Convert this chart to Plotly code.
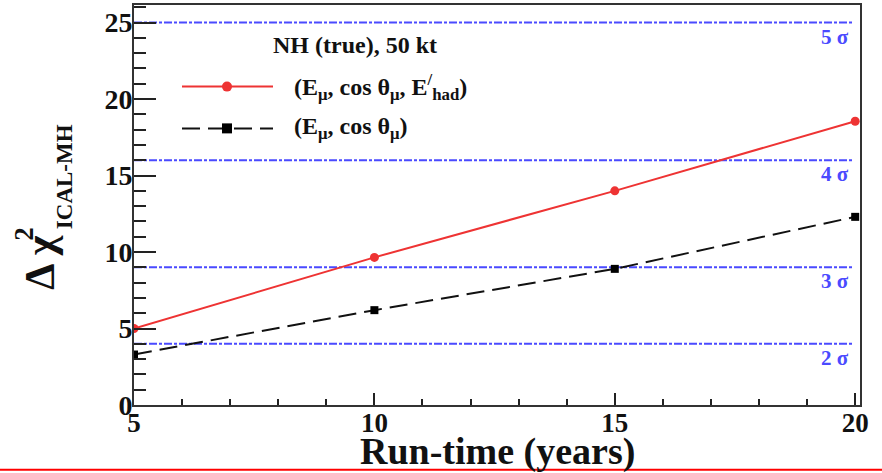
import plotly.graph_objects as go

# ---- data ----
run_time = [5, 10, 15, 20]
chi2_with_had = [5.0, 9.65, 14.0, 18.55]
chi2_without_had = [3.3, 6.2, 8.9, 12.3]
sigma_levels = [4, 9, 16, 25]
sigma_labels = ["2 σ", "3 σ", "4 σ", "5 σ"]
x_ticks = [5, 10, 15, 20]
y_ticks = [0, 5, 10, 15, 20, 25]

SERIF = "Liberation Serif, Times New Roman, Tinos, DejaVu Serif, serif"
RED = "#ee3333"
BLUE = "#4a4aff"
INK = "#111111"

# plot area in pixels (for paper-coordinate helpers)
L, R, T, B = 134, 860, 3, 405
def px(x):
    return (x - L) / (R - L)
def py(y):
    return (B - y) / (B - T)

fig = go.Figure()

fig.add_trace(go.Scatter(
    x=run_time, y=chi2_with_had, mode="lines+markers",
    line=dict(color=RED, width=2),
    marker=dict(color=RED, size=9, symbol="circle"),
    showlegend=False,
))
fig.add_trace(go.Scatter(
    x=run_time, y=chi2_without_had, mode="lines+markers",
    line=dict(color=INK, width=2, dash="18px,8px"),
    marker=dict(color="#000000", size=8, symbol="square"),
    showlegend=False,
))

# sigma reference lines and labels
for lvl, lab in zip(sigma_levels, sigma_labels):
    fig.add_shape(type="line", xref="x", yref="y", x0=5, x1=19.95, y0=lvl, y1=lvl,
                  line=dict(color=BLUE, width=2, dash="8px,2px,3px,2px"), layer="below")
    fig.add_annotation(xref="paper", yref="y", x=px(851), y=lvl, yshift=-14,
                       text=lab, showarrow=False, xanchor="right", yanchor="middle",
                       font=dict(family=SERIF, size=21, color=BLUE, weight="bold"))

# legend (drawn manually)
fig.add_annotation(xref="paper", yref="paper", x=px(355), y=py(43), text="NH (true), 50 kt",
                   showarrow=False, xanchor="center", yanchor="middle",
                   font=dict(family=SERIF, size=24, color=INK, weight="bold"))
leg_y = [py(85), py(127)]
leg_text = ["(E<sub>μ</sub>, cos θ<sub>μ</sub>, E<sup>/</sup><sub>had</sub>)",
            "(E<sub>μ</sub>, cos θ<sub>μ</sub>)"]
fig.add_shape(type="line", xref="paper", yref="paper", x0=px(182), x1=px(273), y0=leg_y[0], y1=leg_y[0],
              line=dict(color=RED, width=2))
fig.add_shape(type="circle", xref="paper", yref="paper", xsizemode="pixel", ysizemode="pixel",
              xanchor=px(227), yanchor=leg_y[0], x0=-5, x1=5, y0=-5, y1=5,
              fillcolor=RED, line=dict(color=RED, width=0))
fig.add_shape(type="line", xref="paper", yref="paper", x0=px(182), x1=px(273), y0=leg_y[1], y1=leg_y[1],
              line=dict(color=INK, width=2, dash="18px,8px"))
fig.add_shape(type="rect", xref="paper", yref="paper", xsizemode="pixel", ysizemode="pixel",
              xanchor=px(227), yanchor=leg_y[1], x0=-5, x1=5, y0=-5, y1=5,
              fillcolor="#000000", line=dict(color="#000000", width=0))
for yy, tt in zip(leg_y, leg_text):
    fig.add_annotation(xref="paper", yref="paper", x=px(292), y=yy, text=tt,
                       showarrow=False, xanchor="left", yanchor="middle",
                       font=dict(family=SERIF, size=24, color=INK, weight="bold"))

# y axis title: Δχ, superscript 2 and subscript ICAL-MH stacked
fig.add_annotation(xref="paper", yref="paper", x=px(40), y=py(262), text="Δ χ", textangle=-90,
                   showarrow=False, xanchor="center", yanchor="middle",
                   font=dict(family=SERIF, size=42, color=INK, weight="bold"))
fig.add_annotation(xref="paper", yref="paper", x=px(24), y=py(233), text="2", textangle=-90,
                   showarrow=False, xanchor="center", yanchor="middle",
                   font=dict(family=SERIF, size=27, color=INK, weight="bold"))
fig.add_annotation(xref="paper", yref="paper", x=px(64), y=py(176), text="ICAL-MH", textangle=-90,
                   showarrow=False, xanchor="center", yanchor="middle",
                   font=dict(family=SERIF, size=23, color=INK, weight="bold"))

# x axis title
fig.add_annotation(xref="paper", yref="paper", x=px(497), y=py(452), text="Run-time (years)",
                   showarrow=False, xanchor="center", yanchor="middle",
                   font=dict(family=SERIF, size=38, color=INK, weight="bold"))

# red bottom border line
fig.add_shape(type="line", xref="paper", yref="paper", x0=px(-5), x1=px(890), y0=py(470), y1=py(470),
              line=dict(color="#ff0000", width=2))

fig.update_layout(
    width=882, height=473,
    margin=dict(l=L, r=882 - R, t=T, b=473 - B),
    paper_bgcolor="white", plot_bgcolor="white",
    showlegend=False,
    xaxis=dict(
        range=[5, 20.1], tickvals=x_ticks, ticktext=[str(v) for v in x_ticks],
        showgrid=False, zeroline=False,
        showline=True, linecolor="#333333", linewidth=2, mirror=True,
        ticks="inside", ticklen=12, tickwidth=2, tickcolor="#222222",
        minor=dict(dtick=1, ticks="inside", ticklen=6, tickwidth=2, tickcolor="#222222", showgrid=False),
        tickfont=dict(family=SERIF, size=27, color=INK, weight="bold"),
        ticklabelstandoff=-7,
    ),
    yaxis=dict(
        range=[0, 26.15], tickvals=y_ticks, ticktext=[str(v) for v in y_ticks],
        showgrid=False, zeroline=False,
        showline=True, linecolor="#333333", linewidth=2, mirror=True,
        ticks="inside", ticklen=22, tickwidth=2, tickcolor="#222222",
        minor=dict(dtick=1, ticks="inside", ticklen=12, tickwidth=2, tickcolor="#222222", showgrid=False),
        tickfont=dict(family=SERIF, size=28, color=INK, weight="bold"),
        ticklabelstandoff=-6,
    ),
)

fig.write_html("out.html", config={"displayModeBar": False},
               post_script="document.body.style.margin='0';")
